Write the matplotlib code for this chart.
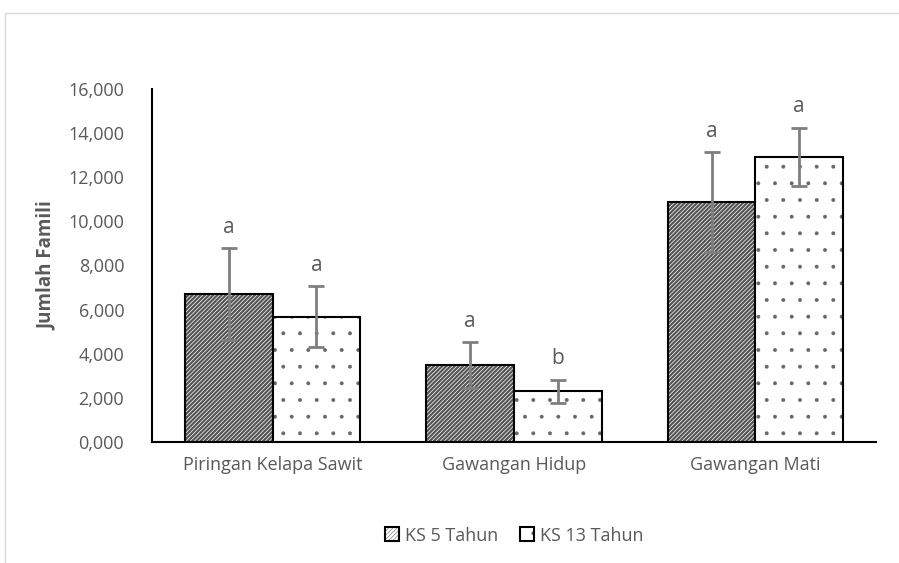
import matplotlib.pyplot as plt
import matplotlib.patches as mpatches
import numpy as np
from matplotlib.ticker import FuncFormatter

plt.rcParams['font.family'] = ['Open Sans', 'DejaVu Sans']

categories = ['Piringan Kelapa Sawit', 'Gawangan Hidup', 'Gawangan Mati']
series_names = ['KS 5 Tahun', 'KS 13 Tahun']
ks5_values = [6.70, 3.49, 10.88]
ks5_errors = [2.08, 1.04, 2.25]
ks13_values = [5.67, 2.31, 12.92]
ks13_errors = [1.38, 0.52, 1.32]
ks5_letters = ['a', 'a', 'a']
ks13_letters = ['a', 'b', 'a']

text_color = '#595959'


def hatch_style(patches, color, lw):
    for p in patches:
        p._hatch_color = color
        if hasattr(p, 'set_hatch_linewidth'):
            p.set_hatch_linewidth(lw)


fig = plt.figure(figsize=(8.99, 5.63), dpi=100)
# light chart-area border (cut at right and bottom)
fig.patches.append(mpatches.Rectangle((5 / 899, -0.05), 1.1, 1 - 13 / 563 + 0.05,
                                      transform=fig.transFigure, fill=False,
                                      edgecolor='#d9d9d9', lw=1))
ax = fig.add_axes([152 / 899, 121 / 563, 724 / 899, 353 / 563])

x = np.arange(len(categories))
w = 0.363

plt.rcParams['hatch.linewidth'] = 1.6
b1 = ax.bar(x - w / 2, ks5_values, w, facecolor='white', edgecolor='black', lw=1.5,
            hatch='////////', label=series_names[0])
hatch_style(b1, (0.33, 0.33, 0.33, 1), 1.6)
plt.rcParams['hatch.linewidth'] = 0.35
b2 = ax.bar(x + w / 2, ks13_values, w, facecolor='white', edgecolor='black', lw=1.5,
            hatch='.', label=series_names[1])
hatch_style(b2, (0.4, 0.4, 0.4, 1), 0.35)

ax.errorbar(x - w / 2, ks5_values, yerr=ks5_errors, fmt='none', ecolor='#7f7f7f',
            elinewidth=2, capsize=6, capthick=2)
ax.errorbar(x + w / 2, ks13_values, yerr=ks13_errors, fmt='none', ecolor='#7f7f7f',
            elinewidth=2, capsize=6, capthick=2)

for i in range(len(categories)):
    ax.text(x[i] - w / 2, ks5_values[i] + ks5_errors[i] + 0.95, ks5_letters[i],
            ha='center', va='center', fontsize=15, color=text_color)
    ax.text(x[i] + w / 2, ks13_values[i] + ks13_errors[i] + 0.95, ks13_letters[i],
            ha='center', va='center', fontsize=15, color=text_color)

ax.set_xlim(-0.5, 2.5)
ax.set_ylim(0, 16)
ax.set_yticks(np.arange(0, 17, 2))
ax.yaxis.set_major_formatter(FuncFormatter(lambda v, p: f'{v:.3f}'.replace('.', ',')))
ax.set_xticks(x)
ax.set_xticklabels(categories)
ax.tick_params(axis='both', length=0, labelsize=13, labelcolor=text_color, pad=10)
ax.tick_params(axis='y', pad=20)
for s in ['top', 'right']:
    ax.spines[s].set_visible(False)
ax.spines['left'].set_linewidth(1.5)
ax.spines['bottom'].set_linewidth(1.5)
ax.set_ylabel('Jumlah Famili', fontsize=13.5, fontweight='bold', color=text_color, labelpad=8)

leg = ax.legend(loc='center', bbox_to_anchor=(0.5, -0.265), ncol=2, frameon=False,
                fontsize=13, handlelength=0.8, handleheight=0.8, handletextpad=0.3,
                columnspacing=1.2, labelcolor=text_color)

fig.savefig('out.png', dpi=100)
